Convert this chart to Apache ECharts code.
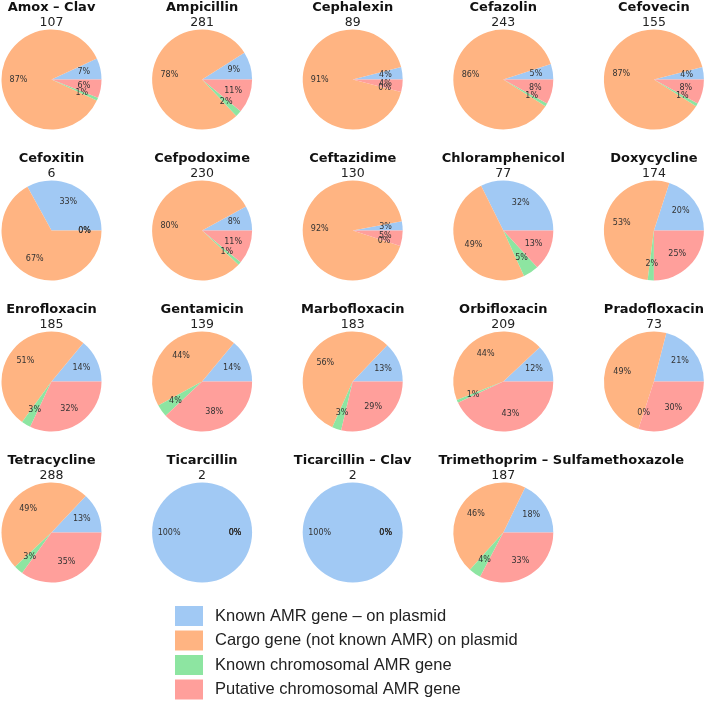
<!DOCTYPE html>
<html>
<head>
<meta charset="utf-8">
<script src="https://cdn.jsdelivr.net/npm/echarts@6/dist/echarts.min.js"></script>
<style>
    html, body { margin: 0; padding: 0; background: #fff; }
    #chart { width: 705px; height: 708px; }
</style>
</head>
<body>
<div id="chart"></div>
<script>
// one pie per antimicrobial, values are % of genes
const drugs = ['Amox – Clav', 'Ampicillin', 'Cephalexin', 'Cefazolin', 'Cefovecin',
    'Cefoxitin', 'Cefpodoxime', 'Ceftazidime', 'Chloramphenicol', 'Doxycycline',
    'Enrofloxacin', 'Gentamicin', 'Marbofloxacin', 'Orbifloxacin', 'Pradofloxacin',
    'Tetracycline', 'Ticarcillin', 'Ticarcillin – Clav', 'Trimethoprim – Sulfamethoxazole']
const counts = [107, 281, 89, 243, 155, 6, 230, 130, 77, 174, 185, 139, 183, 209, 73, 288, 2, 2, 187]

const categories = ['Known AMR gene – on plasmid', 'Cargo gene (not known AMR) on plasmid',
    'Known chromosomal AMR gene', 'Putative chromosomal AMR gene']

const plasmidAmr  = [7, 9, 4, 5, 4, 33, 8, 3, 32, 20, 14, 14, 13, 12, 21, 13, 100, 100, 18]
const cargo       = [87, 78, 91, 86, 87, 67, 80, 92, 49, 53, 51, 44, 56, 44, 49, 49, 0, 0, 46]
const chromAmr    = [1, 2, 0, 1, 1, 0, 1, 0, 5, 2, 3, 4, 3, 1, 0, 3, 0, 0, 4]
const putativeAmr = [6, 11, 4, 8, 8, 0, 11, 5, 13, 25, 32, 38, 29, 43, 30, 35, 0, 0, 33]

const colors = ['#a1c9f4', '#ffb482', '#8de5a1', '#ff9f9b']

// grid layout
const colX0 = 51.5, colStep = 150.6
const rowStep = 151
const pieY0 = 79.5, nameY0 = 7.5, countY0 = 22.5
const pieR = 50
const titleNudge = { 18: 58 } // long title sits off-centre in the original

const seriesValues = [plasmidAmr, cargo, chromAmr, putativeAmr]

const pies = []
const labelPies = []
const titles = []
drugs.forEach((drug, i) => {
    const cx = colX0 + colStep * (i % 5)
    const row = Math.floor(i / 5)
    const cy = pieY0 + rowStep * row
    const data = categories.map((name, k) => ({ name, value: seriesValues[k][i] }))
    pies.push({
        type: 'pie',
        center: [cx, cy],
        radius: pieR,
        startAngle: 0,
        clockwise: false,
        silent: true,
        data: data,
        itemStyle: { borderWidth: 0 },
        label: { show: false },
        labelLine: { show: false },
        emphasis: { disabled: true }
    })
    // transparent copy, larger radius, so inside labels land at 0.6 r
    labelPies.push({
        type: 'pie',
        center: [cx, cy],
        radius: pieR * 1.2,
        startAngle: 0,
        clockwise: false,
        silent: true,
        avoidLabelOverlap: false,
        labelLayout: { hideOverlap: false },
        z: 5,
        data: data,
        itemStyle: { color: 'rgba(0,0,0,0)', borderWidth: 0 },
        label: {
            show: true,
            position: 'inside',
            formatter: '{c}%',
            fontFamily: 'DejaVu Sans',
            fontSize: 8,
            color: '#333'
        },
        labelLine: { show: false },
        emphasis: { disabled: true }
    })
    titles.push({
        text: drug,
        left: cx + (titleNudge[i] || 0),
        top: nameY0 + rowStep * row,
        textAlign: 'center',
        textVerticalAlign: 'middle',
        padding: 0,
        textStyle: { fontFamily: 'DejaVu Sans', fontWeight: 'bold', fontSize: 13, color: '#111' }
    })
    titles.push({
        text: String(counts[i]),
        left: cx,
        top: countY0 + rowStep * row,
        textAlign: 'center',
        textVerticalAlign: 'middle',
        padding: 0,
        textStyle: { fontFamily: 'DejaVu Sans', fontWeight: 'normal', fontSize: 12.5, color: '#222' }
    })
})

const myChart = echarts.init(document.getElementById('chart'))
const option = {
    animation: false,
    color: colors,
    title: titles,
    legend: {
        orient: 'vertical',
        left: 175,
        top: 606,
        padding: 0,
        icon: 'rect',
        itemWidth: 28,
        itemHeight: 20,
        itemGap: 4.5,
        selectedMode: false,
        data: categories.map((name, k) => ({ name, itemStyle: { color: colors[k] } })),
        textStyle: {
            fontFamily: 'Liberation Sans',
            fontSize: 16.5,
            color: '#222',
            padding: [0, 0, 0, 7]
        }
    },
    series: pies.concat(labelPies)
}
myChart.setOption(option)
</script>
</body>
</html>
